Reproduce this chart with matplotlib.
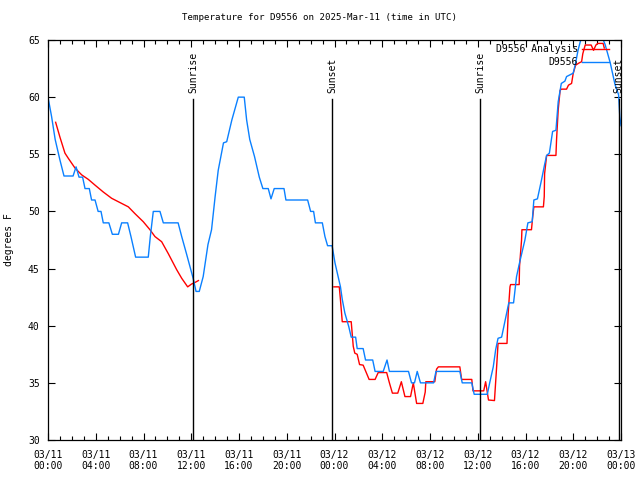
import numpy as np
import matplotlib
matplotlib.use("Agg")
import matplotlib.pyplot as plt

# hours since 2025-03-11 00:00 UTC
blue_t = [0.0, 0.3, 0.6, 1.0, 1.34, 2.1, 2.35, 2.6, 2.9, 3.1, 3.46, 3.65, 3.94, 4.2, 4.44,
          4.63, 5.1, 5.39, 5.9, 6.17, 6.67, 6.95, 7.34, 8.4, 8.57, 8.82, 9.38, 9.66, 10.9,
          11.2, 11.6, 12.17, 12.4, 12.67, 13.0, 13.4, 13.7, 14.0, 14.26, 14.7, 14.97, 15.4,
          15.94, 16.44, 16.64, 16.9, 17.3, 17.7, 18.0, 18.45, 18.68, 18.95, 19.77, 19.93,
          21.75, 22.0, 22.25, 22.4, 22.98, 23.2, 23.42, 23.8, 24.04, 24.3, 24.5, 24.65,
          24.87, 25.2, 25.4, 25.77, 25.9, 26.4, 26.6, 27.2, 27.4, 28.08, 28.4, 28.6, 30.2,
          30.45, 30.7, 30.93, 31.2, 32.3, 32.5, 34.5, 34.7, 35.5, 35.7, 36.8, 37.0, 37.3,
          37.5, 37.7, 38.0, 38.3, 38.6, 39.0, 39.25, 39.5, 39.95, 40.2, 40.56, 40.7, 41.0,
          41.35, 41.6, 41.77, 42.0, 42.27, 42.55, 42.74, 43.0, 43.3, 43.44, 44.0, 44.2,
          44.4, 44.7, 45.2, 45.9, 46.4, 46.67, 47.1, 47.5, 47.8, 47.9, 48.0]
blue_v = [60.0, 58.3, 56.3, 54.5, 53.1, 53.1, 53.9, 53.0, 53.0, 52.0, 52.0, 51.0, 51.0, 50.0,
          50.0, 49.0, 49.0, 48.0, 48.0, 49.0, 49.0, 47.8, 46.0, 46.0, 47.8, 50.0, 50.0, 49.0,
          49.0, 47.8, 46.3, 44.1, 43.0, 43.0, 44.3, 47.1, 48.4, 51.3, 53.6, 56.0, 56.1, 58.0,
          60.0, 60.0, 58.0, 56.3, 54.8, 53.0, 52.0, 52.0, 51.1, 52.0, 52.0, 51.0, 51.0, 50.0,
          50.0, 49.0, 49.0, 47.8, 47.0, 47.0, 45.5, 44.3, 43.4, 42.3, 41.1, 39.9, 39.0, 39.0,
          38.0, 38.0, 37.0, 37.0, 36.0, 36.0, 37.0, 36.0, 36.0, 35.0, 35.0, 36.0, 35.0, 35.0,
          36.0, 36.0, 35.0, 35.0, 34.0, 34.0, 35.0, 36.4, 37.9, 38.9, 39.0, 40.5, 42.0, 42.0,
          44.3, 45.5, 47.5, 49.0, 49.1, 51.0, 51.1, 52.8, 54.1, 54.9, 55.1, 57.0, 57.1, 59.6,
          61.2, 61.4, 61.8, 62.1, 63.0, 64.1, 65.3, 66.0, 66.0, 65.3, 64.6, 63.0, 61.1, 60.2,
          58.3, 57.5]

red_t = [0.64, 1.0, 1.42, 1.7, 2.26, 2.82, 3.38, 3.94, 4.63, 5.33, 6.17, 6.73, 7.29, 7.98,
         8.54, 8.96, 9.52, 10.08, 10.78, 11.2, 11.7, 12.03, 12.25, 12.6, 18.0,
         23.95, 24.4, 24.5, 24.65, 25.4, 25.57, 25.7, 25.9, 26.1, 26.4, 26.7, 26.9, 27.4,
         27.66, 28.37, 28.6, 28.85, 29.3, 29.6, 29.9, 30.37, 30.6, 30.88, 31.4, 31.6, 31.65,
         32.4, 32.55, 32.7, 34.5, 34.65, 35.5, 35.6, 36.5, 36.66, 36.9, 37.4, 37.6, 37.7,
         38.45, 38.55, 38.7, 38.75, 39.47, 39.5, 39.67, 39.7, 40.5, 40.6, 40.7, 41.5, 41.57,
         41.6, 41.77, 42.55, 42.6, 42.66, 42.74, 42.9, 43.0, 43.44, 43.6, 43.86, 44.0, 44.2,
         44.5, 44.7, 44.8, 45.0, 45.5, 45.7, 45.9, 46.05, 46.5, 46.6]
red_v = [57.8, 56.5, 55.1, 54.65, 53.8, 53.2, 52.8, 52.3, 51.7, 51.15, 50.7, 50.4, 49.8, 49.1,
         48.4, 47.8, 47.35, 46.3, 44.9, 44.15, 43.4, 43.65, 43.75, 43.95, np.nan,
         43.4, 43.4, 42.25, 40.35, 40.35, 38.2, 37.6, 37.5, 36.6, 36.55, 35.8, 35.3, 35.3,
         35.9, 35.9, 35.0, 34.1, 34.1, 35.1, 33.8, 33.8, 35.0, 33.2, 33.2, 34.2, 35.1,
         35.1, 36.2, 36.4, 36.4, 35.3, 35.3, 34.3, 34.3, 35.1, 33.5, 33.45, 36.7, 38.45,
         38.45, 41.1, 43.4, 43.6, 43.6, 45.2, 47.5, 48.4, 48.4, 49.5, 50.4, 50.4, 51.3,
         53.3, 54.9, 54.9, 56.25, 57.4, 58.9, 60.6, 60.7, 60.7, 61.05, 61.2, 62.1, 62.8,
         63.0, 63.1, 63.8, 64.56, 64.56, 64.1, 64.56, 64.7, 64.7, 64.3]

sun_t = [12.17, 23.81, 36.2, 47.82]
sun_labels = ['Sunrise', 'Sunset', 'Sunrise', 'Sunset']

xtick_pos = list(range(0, 49, 4))
xtick_labels = ['03/11\n00:00', '03/11\n04:00', '03/11\n08:00', '03/11\n12:00', '03/11\n16:00',
                '03/11\n20:00', '03/12\n00:00', '03/12\n04:00', '03/12\n08:00', '03/12\n12:00',
                '03/12\n16:00', '03/12\n20:00', '03/13\n00:00']

plt.rcParams['font.family'] = 'DejaVu Sans Mono'
plt.rcParams['font.size'] = 7

fig = plt.figure(figsize=(6.4, 4.8), dpi=100)
ax = fig.add_axes([48/640, 40/480, 573/640, 400/480])

ax.plot(red_t, red_v, color='#ff0000', lw=1.0, label='D9556 Analysis')
ax.plot(blue_t, blue_v, color='#0a80ff', lw=1.0, label='D9556')

for t, lab in zip(sun_t, sun_labels):
    ax.plot([t, t], [30, 59.8], color='black', lw=1.0)
    ax.text(t, 60.4, lab, rotation=90, ha='center', va='bottom', fontsize=7)

ax.set_xlim(0, 48)
ax.set_ylim(30, 65)
ax.set_xticks(xtick_pos)
ax.set_xticklabels(xtick_labels)
ax.set_xticks(range(0, 49), minor=True)
ax.set_yticks(range(30, 66, 5))
ax.tick_params(which='both', direction='in', top=True, right=True, width=0.8)
ax.tick_params(which='major', length=5)
ax.tick_params(axis='x', which='major', pad=7)
ax.tick_params(axis='y', which='major', pad=6)
ax.tick_params(which='minor', length=3)
for s in ax.spines.values():
    s.set_linewidth(0.9)

ax.set_ylabel('degrees F', labelpad=10)
fig.suptitle('Temperature for D9556 on 2025-Mar-11 (time in UTC)', y=0.972, fontsize=6.6)

ax.legend(loc='upper right', bbox_to_anchor=(0.979, 0.99), frameon=False, markerfirst=False,
          borderpad=0, borderaxespad=0, handlelength=2.8, handletextpad=0.4, labelspacing=0.3,
          fontsize=7)

fig.savefig('out.png', dpi=100)
